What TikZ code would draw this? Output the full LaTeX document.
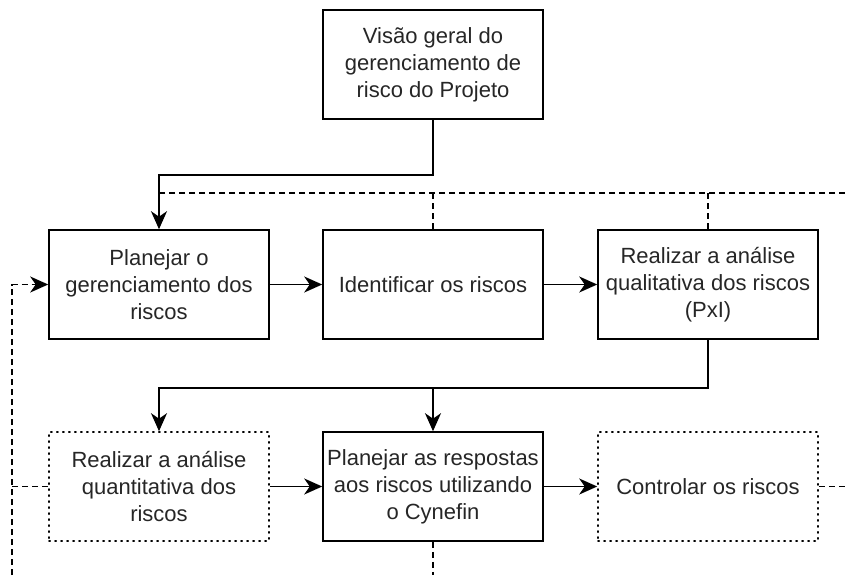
\documentclass[tikz,border=0pt]{standalone}
\usepackage{fontspec}
\setmainfont{Liberation Sans}
\usetikzlibrary{arrows.meta}
\begin{document}
\begin{tikzpicture}[x=1pt,y=1pt,
  box/.style={draw, line width=1.6pt, minimum width=220pt, minimum height=109pt,
    align=center, inner sep=0pt, text=black!85,
    font=\fontsize{22}{27}\selectfont},
  dbox/.style={box, line width=1.6pt, dash pattern=on 1.2pt off 4.8pt, line cap=round},
  tip/.style={-{Stealth[length=18pt,width=16pt,inset=5.5pt]}},
  con/.style={line width=1.8pt},
  arr/.style={con, tip},
  dsh/.style={line width=1.6pt, dash pattern=on 6pt off 4pt}]
\useasboundingbox (0,0) rectangle (845,-575);

\node[box] (top) at (433,-64.5) {Visão geral do\\gerenciamento de\\risco do Projeto};
\node[box] (A) at (159,-284.5) {Planejar o\\gerenciamento dos\\riscos};
\node[box] (B) at (433,-284.5) {Identificar os riscos};
\node[box] (C) at (708,-284.5) {Realizar a análise\\qualitativa dos riscos\\(PxI)};
\node[dbox] (D) at (159,-486.5) {Realizar a análise\\quantitativa dos\\riscos};
\node[box] (E) at (433,-486.5) {Planejar as respostas\\aos riscos utilizando\\o Cynefin};
\node[dbox] (F) at (708,-486.5) {Controlar os riscos};

\coordinate (fbR) at (845,-193);
\coordinate (fR) at (845,-486.5);
\coordinate (lb) at (12,-575);
\coordinate (eb) at (433,-575);

% dashed feedback lines
\draw[dsh] (fbR) -- (A.north |- fbR);
\draw[dsh] (B.north |- fbR) -- (B.north);
\draw[dsh] (C.north |- fbR) -- (C.north);
\draw[dsh] (F.east) -- (fR);
\draw[dsh, tip] (lb) |- (A.west);
\draw[dsh] (D.west) -- (D.west -| lb);
\draw[dsh] (E.south) -- (eb);

% solid flow
\draw[arr] (top.south) -- ++(0,-55) -| (A.north);
\draw[arr] (A) -- (B);
\draw[arr] (B) -- (C);
\path (C.south) ++(0,-48) coordinate (cj);
\draw[arr] (C.south) -- (cj) -| (D.north);
\draw[arr] (cj -| E.north) -- (E.north);
\draw[arr] (D) -- (E);
\draw[arr] (E) -- (F);
\end{tikzpicture}
\end{document}
